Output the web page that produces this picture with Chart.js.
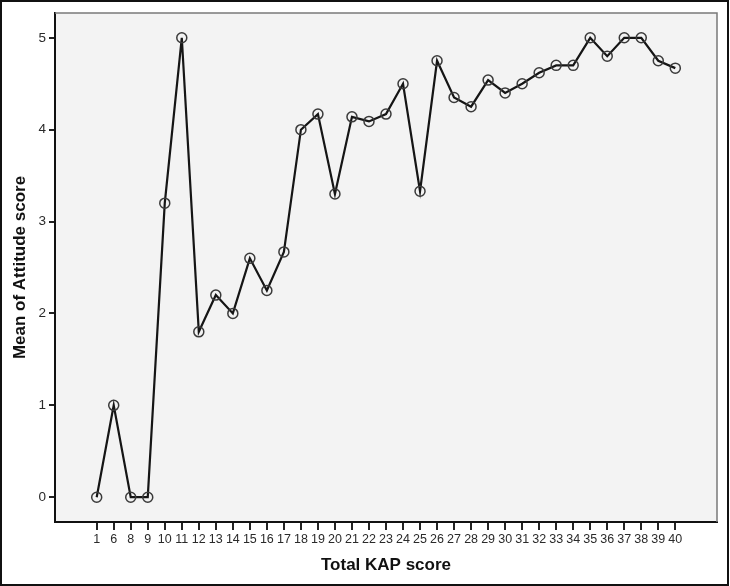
<!DOCTYPE html>
<html><head><meta charset="utf-8">
<script src="https://cdn.jsdelivr.net/npm/chart.js@4.4.0/dist/chart.umd.min.js"></script>
<style>html,body{margin:0;padding:0;background:#fff;}#wrap{width:730px;height:586px;position:relative;}</style>
</head><body><div id="wrap"><canvas id="c" width="730" height="586"></canvas></div>
<script>
const categories = ['1','6','8','9','10','11','12','13','14','15','16','17','18','19','20','21','22','23','24','25','26','27','28','29','30','31','32','33','34','35','36','37','38','39','40'];
const meanAttitude = [0,1,0,0,3.2,5,1.8,2.2,2.0,2.6,2.25,2.67,4.0,4.17,3.3,4.14,4.09,4.17,4.5,3.33,4.75,4.35,4.25,4.54,4.4,4.5,4.62,4.7,4.7,5,4.8,5,5,4.75,4.67];
const yTickValues = [0,1,2,3,4,5];
const xTitle = 'Total KAP score';
const yTitle = 'Mean of Attitude score';

const FONT = "'Liberation Sans', Arial, sans-serif";

const framePlugin = {
  id: 'frame',
  beforeDraw(chart) {
    const {ctx, chartArea: a} = chart;
    ctx.save();
    ctx.fillStyle = '#f3f3f3';
    ctx.fillRect(a.left, a.top, a.right - a.left, a.bottom - a.top);
    ctx.restore();
  },
  afterDraw(chart) {
    const {ctx, chartArea: a} = chart;
    ctx.save();
    ctx.strokeStyle = '#7a7a7a';
    ctx.lineWidth = 1.5;
    ctx.beginPath();
    ctx.moveTo(a.left, a.top);
    ctx.lineTo(a.right, a.top);
    ctx.lineTo(a.right, a.bottom);
    ctx.stroke();
    ctx.strokeStyle = '#111';
    ctx.lineWidth = 2;
    ctx.strokeRect(1, 1, chart.width - 3, chart.height - 2);
    ctx.restore();
  }
};

new Chart(document.getElementById('c'), {
  type: 'line',
  data: {
    datasets: [{
      data: meanAttitude.map((v, i) => ({x: i, y: v})),
      borderColor: '#151515',
      borderWidth: 2.2,
      tension: 0,
      pointRadius: 5,
      pointBorderColor: '#3a3a3a',
      pointBorderWidth: 1.5,
      pointBackgroundColor: 'rgba(0,0,0,0)',
      fill: false
    }]
  },
  options: {
    responsive: false,
    animation: false,
    layout: {padding: {top: 13, right: 13, left: 0, bottom: 0}},
    plugins: {legend: {display: false}, tooltip: {enabled: false}},
    scales: {
      x: {
        type: 'linear',
        min: -2.45,
        max: categories.length - 1 + 2.45,
        afterBuildTicks: s => { s.ticks = categories.map((_, i) => ({value: i})); },
        afterFit: s => { s.height = 64; },
        ticks: {
          autoSkip: false, maxRotation: 0, minRotation: 0, padding: 2,
          color: '#2a2a2a', font: {family: FONT, size: 12.5},
          callback: v => categories[v]
        },
        grid: {display: true, drawOnChartArea: false, drawTicks: true, tickLength: 8, color: '#222', lineWidth: 2},
        border: {display: true, color: '#111', width: 2},
        title: {display: true, text: xTitle, color: '#111', font: {family: FONT, size: 17, weight: 'bold'}, padding: {top: 0, bottom: 10}}
      },
      y: {
        min: -0.27,
        max: 5.27,
        afterBuildTicks: s => { s.ticks = yTickValues.map(v => ({value: v})); },
        afterFit: s => { s.width = 55; },
        ticks: {padding: 3, color: '#2a2a2a', font: {family: FONT, size: 13.5}},
        grid: {display: true, drawOnChartArea: false, drawTicks: true, tickLength: 6, color: '#222', lineWidth: 2},
        border: {display: true, color: '#111', width: 2},
        title: {display: true, text: yTitle, color: '#111', font: {family: FONT, size: 17, weight: 'bold'}, padding: {top: 10, bottom: 0}}
      }
    }
  },
  plugins: [framePlugin]
});
</script>
</body></html>
